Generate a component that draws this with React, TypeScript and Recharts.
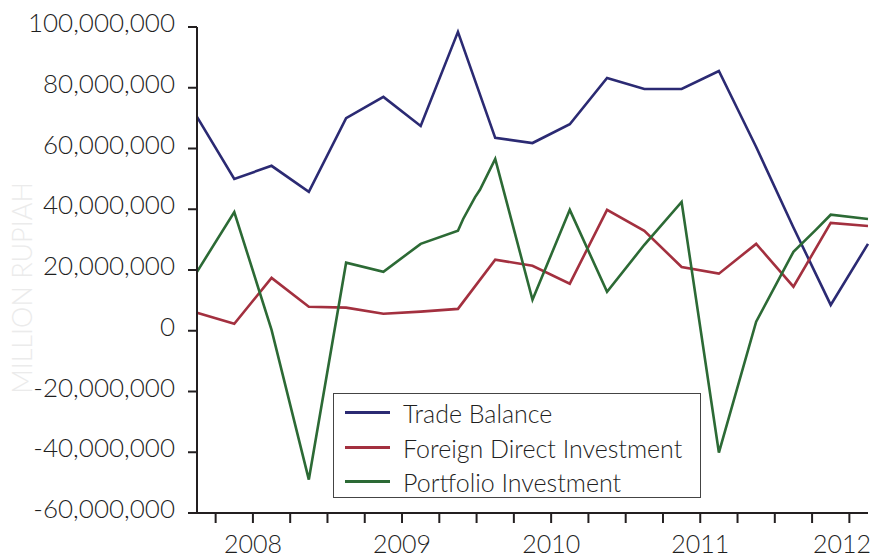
import React from 'react';
import { LineChart, Line, XAxis, YAxis, Legend, Label } from 'recharts';

// Quarter index 0..18 (quarterly observations)
const quarterIndex = [0, 1, 2, 3, 4, 5, 6, 7, 8, 9, 10, 11, 12, 13, 14, 15, 16, 17, 18];

// Values in millions of million rupiah
const tradeBalance = [70.4, 50, 54.3, 45.7, 70, 77, 67.4, 98.4, 63.5, 61.8, 68, 83.2, 79.6, 79.6, 85.5, 60.5, 34, 8.5, 28.6];
const foreignDirect = [5.9, 2.3, 17.4, 7.9, 7.6, 5.6, 6.3, 7.2, 23.4, 21.4, 15.5, 39.8, 32.9, 21, 18.8, 28.6, 14.5, 35.5, 34.5];

// Portfolio series has a few extra intermediate observations
const portfolioIndex = [0, 1, 2, 3, 4, 5, 6, 7, 7.14, 7.46, 7.59, 8, 9, 10, 11, 12, 13, 14, 15, 16, 16.6, 17, 18];
const portfolio = [19.4, 39.1, 0.3, -49, 22.4, 19.4, 28.6, 32.9, 36.8, 44, 46.4, 56.6, 10.2, 39.8, 12.8, 28.3, 42.4, -40.1, 3, 26, 33.2, 38.2, 36.8];

const yTicks = [-60000000, -40000000, -20000000, 0, 20000000, 40000000, 60000000, 80000000, 100000000];
const xTicks = [0.5, 1.5, 2.5, 3.5, 4.5, 5.5, 6.5, 7.5, 8.5, 9.5, 10.5, 11.5, 12.5, 13.5, 14.5, 15.5, 16.5, 17.5];
const yearTickValues = [1.5, 5.5, 9.5, 13.5, 17.5];
const yearLabels = ['2008', '2009', '2010', '2011', '2012'];

const seriesNames = ['Trade Balance', 'Foreign Direct Investment', 'Portfolio Investment'];
const seriesColors = ['#2b2a73', '#a3303f', '#2c6a35'];

const M = 1000000;
const tradeData = quarterIndex.map((q, i) => ({ q, v: tradeBalance[i] * M }));
const fdiData = quarterIndex.map((q, i) => ({ q, v: foreignDirect[i] * M }));
const portData = portfolioIndex.map((q, i) => ({ q, v: portfolio[i] * M }));

const FONT = 'Lato, "Noto Sans", sans-serif';
const TEXT = '#1f1f1f';
const AXIS = '#231f20';

const fmt = (v: number) => {
  const s = Math.abs(v).toString().replace(/\B(?=(\d{3})+(?!\d))/g, ',');
  return v < 0 ? '-' + s : s;
};

const YTick = (props: any) => {
  const { x, y, payload } = props;
  return (
    <text x={x} y={y + 5} textAnchor="end" fill={TEXT} fontSize={26} fontWeight={300} fontFamily={FONT}>
      {fmt(payload.value)}
    </text>
  );
};

const XTick = (props: any) => {
  const { x, y, payload } = props;
  const idx = yearTickValues.indexOf(payload.value);
  if (idx < 0) return <g />;
  const right = x + 27 > 871;
  return (
    <text
      x={right ? 871 : x}
      y={y + 30}
      textAnchor={right ? 'end' : 'middle'}
      fill={TEXT}
      fontSize={25}
      fontWeight={300}
      fontFamily={FONT}
    >
      {yearLabels[idx]}
    </text>
  );
};

const YLabel = (props: any) => {
  const vb = props.viewBox || { x: 0, y: 27, width: 197, height: 486 };
  const cx = vb.x + 21;
  const cy = vb.y + vb.height / 2 + 18;
  return (
    <text
      x={cx}
      y={cy}
      transform={`rotate(-90, ${cx}, ${cy})`}
      textAnchor="middle"
      dominantBaseline="central"
      fill="#ebebeb"
      fontSize={27}
      fontWeight={300}
      fontFamily={FONT}
    >
      MILLION RUPIAH
    </text>
  );
};

const LegendContent = () => {
  return (
    <div
      style={{
        width: 366,
        height: 103,
        border: '1.5px solid #444',
        background: '#fff',
        boxSizing: 'content-box',
        position: 'relative',
        fontFamily: FONT,
      }}
    >
      {seriesNames.map((name, i) => (
        <div
          key={i}
          style={{ position: 'absolute', left: 0, top: 2 + i * 34.5, height: 34, width: 366 }}
        >
          <div
            style={{
              position: 'absolute',
              left: 11,
              top: 15,
              width: 45,
              height: 3,
              background: seriesColors[i],
            }}
          />
          <div
            style={{
              position: 'absolute',
              left: 69,
              top: 0,
              fontSize: 25,
              fontWeight: 300,
              lineHeight: '34px',
              color: TEXT,
              whiteSpace: 'nowrap',
            }}
          >
            {name}
          </div>
        </div>
      ))}
    </div>
  );
};

export default function App() {
  return (
    <div style={{ position: 'absolute', left: 0, top: 0, width: 875, height: 559, background: '#fff' }}>
      <LineChart width={875} height={559} margin={{ top: 27, right: 7, bottom: 0, left: 0 }}>
        <XAxis
          type="number"
          dataKey="q"
          domain={[0, 18]}
          ticks={xTicks}
          interval={0}
          tickSize={10}
          tickMargin={0}
          axisLine={{ stroke: AXIS, strokeWidth: 2 }}
          tickLine={{ stroke: AXIS, strokeWidth: 2 }}
          tick={<XTick />}
          height={46}
        />
        <YAxis
          type="number"
          domain={[-60000000, 100000000]}
          ticks={yTicks}
          interval={0}
          width={197}
          tickSize={9}
          tickMargin={13}
          axisLine={{ stroke: AXIS, strokeWidth: 2 }}
          tickLine={{ stroke: AXIS, strokeWidth: 2 }}
          tick={<YTick />}
        >
          <Label content={<YLabel />} />
        </YAxis>
        <Legend
          layout="vertical"
          align="center"
          verticalAlign="middle"
          content={<LegendContent />}
          wrapperStyle={{ position: 'absolute', left: 333, top: 393, width: 'auto', height: 'auto' }}
        />
        <Line
          data={tradeData}
          dataKey="v"
          name={seriesNames[0]}
          stroke={seriesColors[0]}
          strokeWidth={2.6}
          dot={false}
          activeDot={false}
          isAnimationActive={false}
          type="linear"
        />
        <Line
          data={fdiData}
          dataKey="v"
          name={seriesNames[1]}
          stroke={seriesColors[1]}
          strokeWidth={2.6}
          dot={false}
          activeDot={false}
          isAnimationActive={false}
          type="linear"
        />
        <Line
          data={portData}
          dataKey="v"
          name={seriesNames[2]}
          stroke={seriesColors[2]}
          strokeWidth={2.6}
          dot={false}
          activeDot={false}
          isAnimationActive={false}
          type="linear"
        />
      </LineChart>
    </div>
  );
}
